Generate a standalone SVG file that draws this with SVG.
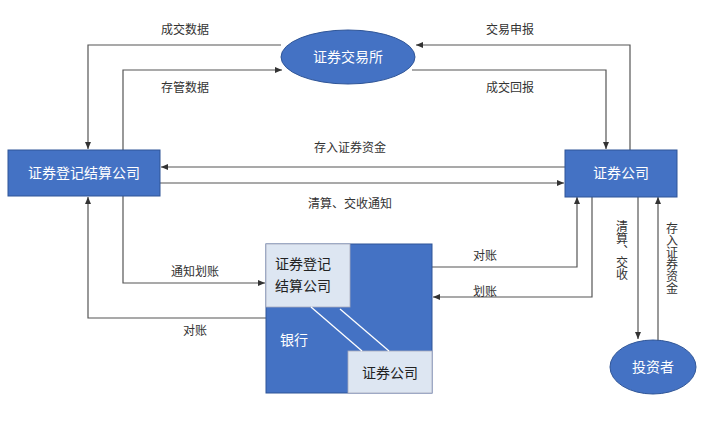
<svg xmlns="http://www.w3.org/2000/svg" width="722" height="438" viewBox="0 0 722 438">
<style>
text{font-family:"Noto Sans CJK SC","Noto Sans",sans-serif;}
.n{fill:#4472C4;stroke:#2F5597;stroke-width:1}
.w{fill:#fff;font-size:14px}
.l{fill:#333;font-size:12px}
.d{fill:#222;font-size:14px}
.c{fill:none;stroke:#555;stroke-width:1.2;marker-end:url(#a)}
.v{fill:#333;font-size:12px;writing-mode:vertical-rl}
</style>
<defs><marker id="a" markerWidth="8" markerHeight="8" refX="7" refY="4" orient="auto" markerUnits="userSpaceOnUse"><path d="M0,1 L7,4 L0,7z" fill="#333"/></marker></defs>
<rect width="722" height="438" fill="#fff"/>
<g id="connectors">
<path class="c" d="M281,45 H88 V149"/>
<path class="c" d="M123,150 V70 H282"/>
<path class="c" d="M630,150 V45 H416"/>
<path class="c" d="M412,70 H606 V149"/>
<path class="c" d="M565,167 H161"/>
<path class="c" d="M160,183 H564"/>
<path class="c" d="M123,196 V283 H265"/>
<path class="c" d="M266,318 H88 V197"/>
<path class="c" d="M432,267 H577 V197"/>
<path class="c" d="M592,197 V297 H433"/>
<path class="c" d="M638,197 V339"/>
<path class="c" d="M658,341 V197"/>
<text class="l" x="185" y="34" text-anchor="middle">成交数据</text>
<text class="l" x="185" y="92" text-anchor="middle">存管数据</text>
<text class="l" x="510" y="34" text-anchor="middle">交易申报</text>
<text class="l" x="510" y="92" text-anchor="middle">成交回报</text>
<text class="l" x="350" y="152" text-anchor="middle">存入证券资金</text>
<text class="l" x="350" y="208" text-anchor="middle">清算、交收通知</text>
<text class="l" x="195" y="276" text-anchor="middle">通知划账</text>
<text class="l" x="195" y="335" text-anchor="middle">对账</text>
<text class="l" x="485" y="260" text-anchor="middle">对账</text>
<text class="l" x="485" y="296" text-anchor="middle">划账</text>
<text class="v" x="622" y="220">清算、交收</text>
<text class="v" x="672" y="222">存入证券资金</text>
</g>
<g id="exchange"><ellipse class="n" cx="348" cy="57" rx="67" ry="27"/><text class="w" x="348" y="62" text-anchor="middle">证券交易所</text></g>
<g id="csdc"><rect class="n" x="8" y="150" width="152" height="46"/><text class="w" x="84" y="178" text-anchor="middle">证券登记结算公司</text></g>
<g id="broker"><rect class="n" x="565" y="150" width="112" height="47"/><text class="w" x="621" y="178" text-anchor="middle">证券公司</text></g>
<g id="investor"><ellipse class="n" cx="653" cy="367" rx="43" ry="27"/><text class="w" x="653" y="372" text-anchor="middle">投资者</text></g>
<g id="bank">
<rect class="n" x="266" y="244" width="166" height="149"/>
<rect x="266" y="244" width="84" height="63" fill="#DDE6F2" stroke="#aab" stroke-width="0.8"/>
<text class="d" x="275" y="269">证券登记</text>
<text class="d" x="275" y="291">结算公司</text>
<rect x="348" y="351" width="84" height="42" fill="#DDE6F2" stroke="#aab" stroke-width="0.8"/>
<text class="d" x="390" y="378" text-anchor="middle">证券公司</text>
<text class="w" x="280" y="345">银行</text>
<line x1="311" y1="307" x2="362" y2="351" stroke="#fff" stroke-width="1.3"/>
<line x1="340" y1="309" x2="389" y2="351" stroke="#fff" stroke-width="1.3"/>
</g>
</svg>
